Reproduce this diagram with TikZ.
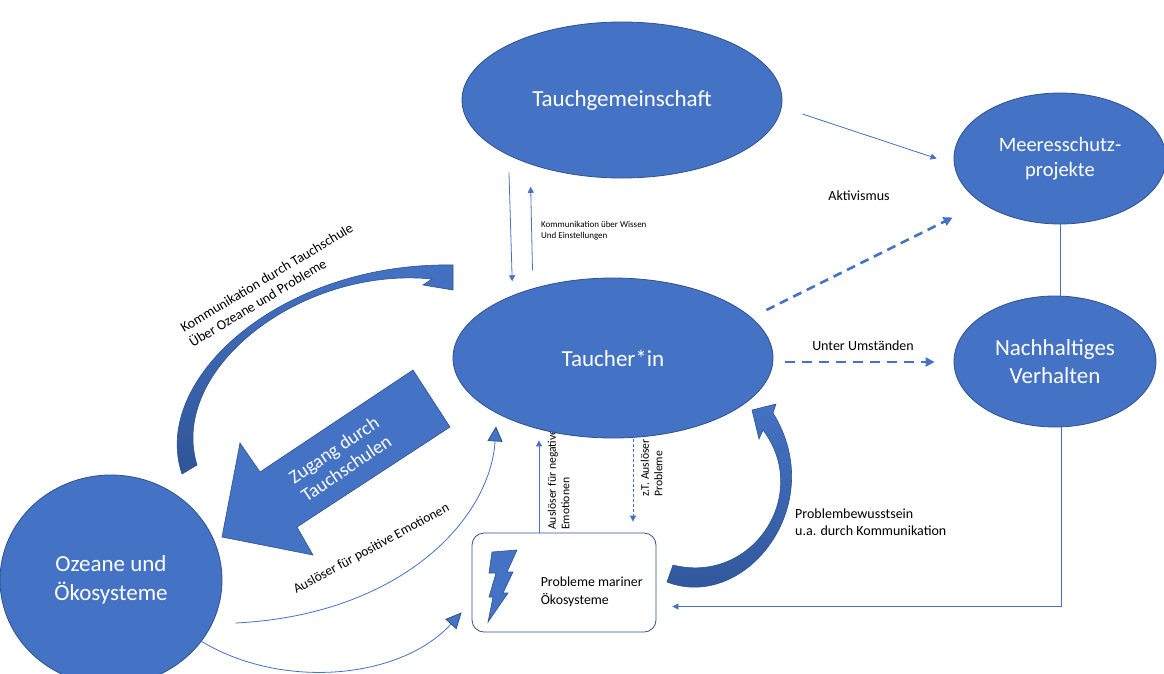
\documentclass[tikz,border=0pt]{standalone}
\usepackage{fontspec}
\setmainfont{Carlito}
\usetikzlibrary{arrows.meta,shapes.geometric}
\definecolor{ofblue}{HTML}{4472C4}
\definecolor{ofdark}{HTML}{2F528F}
\definecolor{ofdeep}{HTML}{2F5597}
\tikzset{
	bubble/.style={ellipse,fill=ofblue,draw=ofdark,line width=.8pt,text=white,align=center,inner sep=0pt},
	link/.style={ofblue,line width=.8pt},
	tag/.style={inner sep=0pt,align=left,text=black},
	bigtip/.style={-{Triangle[length=#1,width=15pt,color=ofdark,fill=ofblue]}},
}
\begin{document}
\begin{tikzpicture}[x=1pt,y=-1pt,>={Triangle[length=6pt,width=6pt]}]
	\path[use as bounding box,fill=white] (0,0) rectangle (1164,673);
	% labels partly hidden behind Taucher*in
	\node[tag,rotate=90,anchor=west,font=\fontsize{11.7}{13.5}\selectfont] (negtag) at (558.5,530) {Auslöser für negative\\Emotionen};
	\node[tag,rotate=90,anchor=west,font=\fontsize{11.7}{13.5}\selectfont] (zttag) at (651.5,497) {z.T. Auslöser für\\Probleme};
	% ellipses
	\node[bubble,minimum width=320pt,minimum height=156pt,font=\fontsize{23}{28}\selectfont] (tg) at (622,100) {Tauchgemeinschaft};
	\node[bubble,minimum width=212pt,minimum height=131pt,font=\fontsize{20.5}{25}\selectfont] (ms) at (1060,158.5) {Meeresschutz-\\projekte};
	\node[bubble,minimum width=202pt,minimum height=131pt,font=\fontsize{23}{28}\selectfont] (nv) at (1055,361.5) {Nachhaltiges\\Verhalten};
	\node[bubble,minimum width=320pt,minimum height=160pt,font=\fontsize{23}{28}\selectfont] (ti) at (613,358) {Taucher*in};
	\node[bubble,minimum width=222pt,minimum height=210pt,font=\fontsize{23}{29}\selectfont] (oz) at (111,580) {Ozeane und\\Ökosysteme};
	% box
	\node[draw=ofdark,line width=.8pt,rounded corners=12pt,fill=white,minimum width=184pt,minimum height=99pt] (pm) at (564,582.5) {};
	\node[tag,anchor=west,font=\fontsize{13.8}{18}\selectfont] (pmtag) at ([xshift=69pt,yshift=-9.5pt]pm.west) {Probleme mariner\\Ökosysteme};
	\filldraw[fill=ofblue,draw=ofdark,line width=.6pt] (492,552) -- (517,550) -- (507,572) -- (513,572) -- (503,593) -- (508,593) -- (488,622) -- (493,597) -- (489,597) -- (496,573) -- (489,573) -- cycle;
	% Tauchgemeinschaft / Taucher*in
	\draw[link,->,shorten <=17pt,shorten >=14pt] (tg.206.8) -- (ti.148.7);
	\draw[link,->,shorten <=18pt,shorten >=22.5pt] (ti.139.6) -- (tg.215.6);
	\node[tag,anchor=west,font=\fontsize{9}{11}\selectfont] (kwtag) at (541,230.5) {Kommunikation über Wissen\\Und Einstellungen};
	\draw[link,->] ([shift={(20,14)}]tg.east) -- ([xshift=-17pt]ms.west);
	% Aktivismus
	\node[tag,font=\fontsize{14}{17}\selectfont] (akttag) at (859,196) {Aktivismus};
	\draw[link,-{Triangle[length=9pt,width=9pt]},line width=2.6pt,dash pattern=on 9pt off 6pt] ([shift={(-7,-48)}]ti.east) -- ([shift={(-1,59)}]ms.west);
	% Unter Umstaenden
	\node[tag,font=\fontsize{14}{17}\selectfont] (umtag) at (863,346) {Unter Umständen};
	\draw[link,-{Triangle[length=9pt,width=9pt]},line width=2.6pt,dash pattern=on 10pt off 7pt] ([shift={(12,4)}]ti.east) -- ([shift={(-19,0.5)}]nv.west);
	\draw[link] (ms.south) -- (ms.south |- nv.north);
	\draw[link,->] ([xshift=6pt]nv.south) |- ([shift={(16,24)}]pm.east);
	% Probleme / Taucher*in
	\draw[link,->] ([xshift=-25pt]pm.north) -- ([xshift=-74pt,yshift=-2pt]ti.south);
	\draw[link,->,densely dashed] ([xshift=20pt,yshift=-1pt]ti.south) -- ([xshift=69pt,yshift=11pt]pm.north);
	% Ozeane
	\draw[link,bigtip=15pt] ([shift={(13,43)}]oz.east) .. controls (400,615) and (490,520) .. ([shift={(-117,-12)}]ti.south);
	\node[tag,rotate=28.5,font=\fontsize{13.5}{16}\selectfont] (petag) at (371.5,549) {Auslöser für positive Emotionen};
	\draw[link,bigtip=16pt] ([shift={(89,-45)}]oz.south) .. controls (280,690) and (400,680) .. ([shift={(-10,-20)}]pm.south west);
	% curved block arrows
	\draw[draw=ofdark,line width=.6pt,top color=ofblue,bottom color=ofdeep] (182,474) .. controls (150,380) and (280,262) .. (453,265) -- (453,290) -- (423,285) -- (432,279) .. controls (300,266) and (168,370) .. (197,465) -- cycle;
	\node[tag,rotate=31,font=\fontsize{14}{17}\selectfont] (kttag) at (271,285) {Kommunikation durch Tauchschule\\Über Ozeane und Probleme};
	\draw[draw=ofdark,line width=.6pt,top color=ofblue,bottom color=ofdeep] (667,582) .. controls (745,612) and (830,505) .. (773,413) -- (776,404) -- (752,410) -- (759,439) -- (763,430) .. controls (812,495) and (752,585) .. (673,565) -- cycle;
	\node[tag,anchor=west,font=\fontsize{14}{17}\selectfont] (pbtag) at (795,522.5) {Problembewusstsein\\u.a. durch Kommunikation};
	% Zugang
	\filldraw[fill=ofblue,draw=ofdark,line width=.6pt] (413,370) -- (450,427) -- (297,527) -- (313,555) -- (222,537) -- (240,443) -- (260,472) -- cycle;
	\node[text=white,rotate=34,align=center,font=\fontsize{19}{22}\selectfont] (zgtag) at (340,459) {Zugang durch\\Tauchschulen};
\end{tikzpicture}
\end{document}
